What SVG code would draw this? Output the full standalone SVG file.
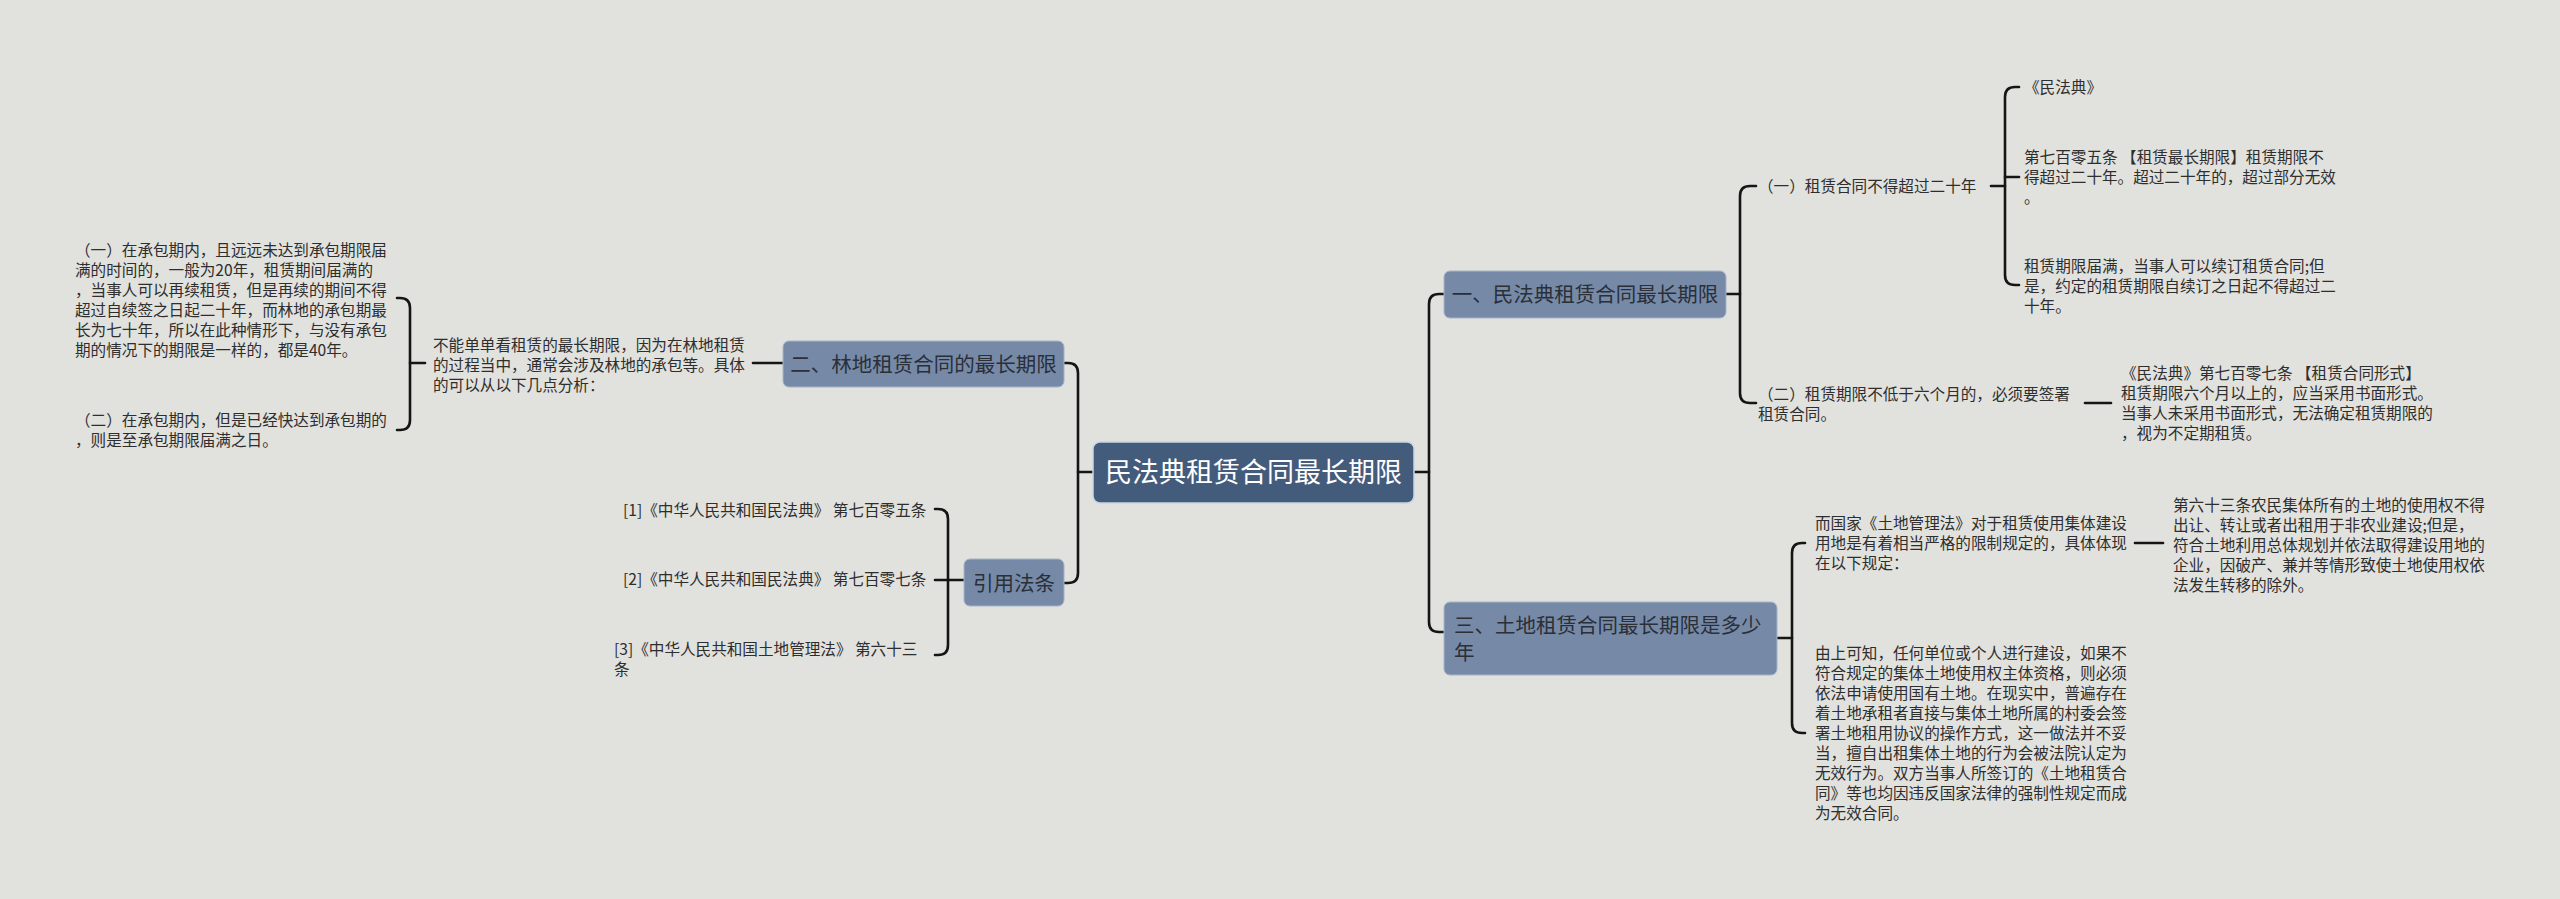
<svg xmlns="http://www.w3.org/2000/svg" width="2560" height="899" viewBox="0 0 2560 899">
<style>
.bg{fill:#e1e1dd}
.conn{fill:none;stroke:#151515;stroke-width:2.6;stroke-linecap:round;stroke-linejoin:round}
.root{fill:#445c7c;stroke:#c9d5e2;stroke-width:1.5}
.main{fill:#768aa8;stroke:#a5b4c9;stroke-width:1}
.rt{font-family:"Noto Sans CJK SC","Noto Sans",sans-serif;font-size:27px;fill:#ffffff}
.nt{font-family:"Noto Sans CJK SC","Noto Sans",sans-serif;font-size:20.5px;fill:#2a2f38}
.t{font-family:"Noto Sans CJK SC","Noto Sans",sans-serif;font-size:15.6px;fill:#2e2e2e}
</style>
<rect class="bg" x="0" y="0" width="2560" height="899"/>
<g id="connectors">
<path class="conn" d="M1414,472 H1429"/>
<path class="conn" d="M1444,294 H1439 Q1429,294 1429,304 V622 Q1429,632 1439,632 H1444"/>
<path class="conn" d="M1093,472 H1078"/>
<path class="conn" d="M1064,363 H1068 Q1078,363 1078,373 V573 Q1078,583 1068,583 H1064"/>
<path class="conn" d="M1726,294 H1740"/>
<path class="conn" d="M1756,186 H1750 Q1740,186 1740,196 V393 Q1740,403 1750,403 H1756"/>
<path class="conn" d="M1991,186 H2005"/>
<path class="conn" d="M2019,87 H2015 Q2005,87 2005,97 V275 Q2005,285 2015,285 H2019"/>
<path class="conn" d="M2005,177 H2019"/>
<path class="conn" d="M2085,403 H2111"/>
<path class="conn" d="M1777,638 H1792"/>
<path class="conn" d="M1805,543 H1802 Q1792,543 1792,553 V723 Q1792,733 1802,733 H1805"/>
<path class="conn" d="M2135,543 H2163"/>
<path class="conn" d="M783,363 H753"/>
<path class="conn" d="M425,363 H410"/>
<path class="conn" d="M397,298 H400 Q410,298 410,308 V420 Q410,430 400,430 H397"/>
<path class="conn" d="M964,580 H935"/>
<path class="conn" d="M935,509 H938 Q948,509 948,519 V645 Q948,655 938,655 H935"/>
</g>
<g id="root">
<rect class="root" x="1093" y="442" width="321" height="61" rx="7"/>
<text class="rt" x="1253.5" y="482" text-anchor="middle">民法典租赁合同最长期限</text>
</g>
<g id="n1">
<rect class="main" x="1444" y="271" width="282" height="47" rx="6"/>
<text class="nt" x="1585" y="302" text-anchor="middle">一、民法典租赁合同最长期限</text>
</g>
<g id="n1a">
<text class="t" x="1758" y="192">（一）租赁合同不得超过二十年</text>
</g>
<g id="n1a1">
<text class="t" x="2024" y="93">《民法典》</text>
</g>
<g id="n1a2">
<text class="t" x="2024" y="163">第七百零五条 【租赁最长期限】租赁期限不</text>
<text class="t" x="2024" y="183">得超过二十年。超过二十年的，超过部分无效</text>
<text class="t" x="2024" y="203">。</text>
</g>
<g id="n1a3">
<text class="t" x="2024" y="272">租赁期限届满，当事人可以续订租赁合同;但</text>
<text class="t" x="2024" y="292">是，约定的租赁期限自续订之日起不得超过二</text>
<text class="t" x="2024" y="312">十年。</text>
</g>
<g id="n1b">
<text class="t" x="1758" y="400">（二）租赁期限不低于六个月的，必须要签署</text>
<text class="t" x="1758" y="420">租赁合同。</text>
</g>
<g id="n1b1">
<text class="t" x="2121" y="379">《民法典》第七百零七条 【租赁合同形式】</text>
<text class="t" x="2121" y="399">租赁期限六个月以上的，应当采用书面形式。</text>
<text class="t" x="2121" y="419">当事人未采用书面形式，无法确定租赁期限的</text>
<text class="t" x="2121" y="439">，视为不定期租赁。</text>
</g>
<g id="n3">
<rect class="main" x="1444" y="602" width="333" height="73" rx="6"/>
<text class="nt" x="1454" y="633">三、土地租赁合同最长期限是多少</text>
<text class="nt" x="1454" y="660">年</text>
</g>
<g id="n3a">
<text class="t" x="1815" y="529">而国家《土地管理法》对于租赁使用集体建设</text>
<text class="t" x="1815" y="549">用地是有着相当严格的限制规定的，具体体现</text>
<text class="t" x="1815" y="569">在以下规定：</text>
</g>
<g id="n3a1">
<text class="t" x="2173" y="511">第六十三条农民集体所有的土地的使用权不得</text>
<text class="t" x="2173" y="531">出让、转让或者出租用于非农业建设;但是，</text>
<text class="t" x="2173" y="551">符合土地利用总体规划并依法取得建设用地的</text>
<text class="t" x="2173" y="571">企业，因破产、兼并等情形致使土地使用权依</text>
<text class="t" x="2173" y="591">法发生转移的除外。</text>
</g>
<g id="n3b">
<text class="t" x="1815" y="659">由上可知，任何单位或个人进行建设，如果不</text>
<text class="t" x="1815" y="679">符合规定的集体土地使用权主体资格，则必须</text>
<text class="t" x="1815" y="699">依法申请使用国有土地。在现实中，普遍存在</text>
<text class="t" x="1815" y="719">着土地承租者直接与集体土地所属的村委会签</text>
<text class="t" x="1815" y="739">署土地租用协议的操作方式，这一做法并不妥</text>
<text class="t" x="1815" y="759">当，擅自出租集体土地的行为会被法院认定为</text>
<text class="t" x="1815" y="779">无效行为。双方当事人所签订的《土地租赁合</text>
<text class="t" x="1815" y="799">同》等也均因违反国家法律的强制性规定而成</text>
<text class="t" x="1815" y="819">为无效合同。</text>
</g>
<g id="n2">
<rect class="main" x="783" y="341" width="281" height="46" rx="6"/>
<text class="nt" x="923.5" y="372" text-anchor="middle">二、林地租赁合同的最长期限</text>
</g>
<g id="n2a">
<text class="t" x="433" y="351">不能单单看租赁的最长期限，因为在林地租赁</text>
<text class="t" x="433" y="371">的过程当中，通常会涉及林地的承包等。具体</text>
<text class="t" x="433" y="391">的可以从以下几点分析：</text>
</g>
<g id="n2a1">
<text class="t" x="75" y="256">（一）在承包期内，且远远未达到承包期限届</text>
<text class="t" x="75" y="276">满的时间的，一般为20年，租赁期间届满的</text>
<text class="t" x="75" y="296">，当事人可以再续租赁，但是再续的期间不得</text>
<text class="t" x="75" y="316">超过自续签之日起二十年，而林地的承包期最</text>
<text class="t" x="75" y="336">长为七十年，所以在此种情形下，与没有承包</text>
<text class="t" x="75" y="356">期的情况下的期限是一样的，都是40年。</text>
</g>
<g id="n2a2">
<text class="t" x="75" y="426">（二）在承包期内，但是已经快达到承包期的</text>
<text class="t" x="75" y="446">，则是至承包期限届满之日。</text>
</g>
<g id="n4">
<rect class="main" x="964" y="559" width="100" height="47" rx="6"/>
<text class="nt" x="1014" y="591" text-anchor="middle">引用法条</text>
</g>
<g id="n4a">
<text class="t" x="623" y="516">[1]《中华人民共和国民法典》 第七百零五条</text>
</g>
<g id="n4b">
<text class="t" x="623" y="585">[2]《中华人民共和国民法典》 第七百零七条</text>
</g>
<g id="n4c">
<text class="t" x="614" y="655">[3]《中华人民共和国土地管理法》 第六十三</text>
<text class="t" x="614" y="675">条</text>
</g>
</svg>
